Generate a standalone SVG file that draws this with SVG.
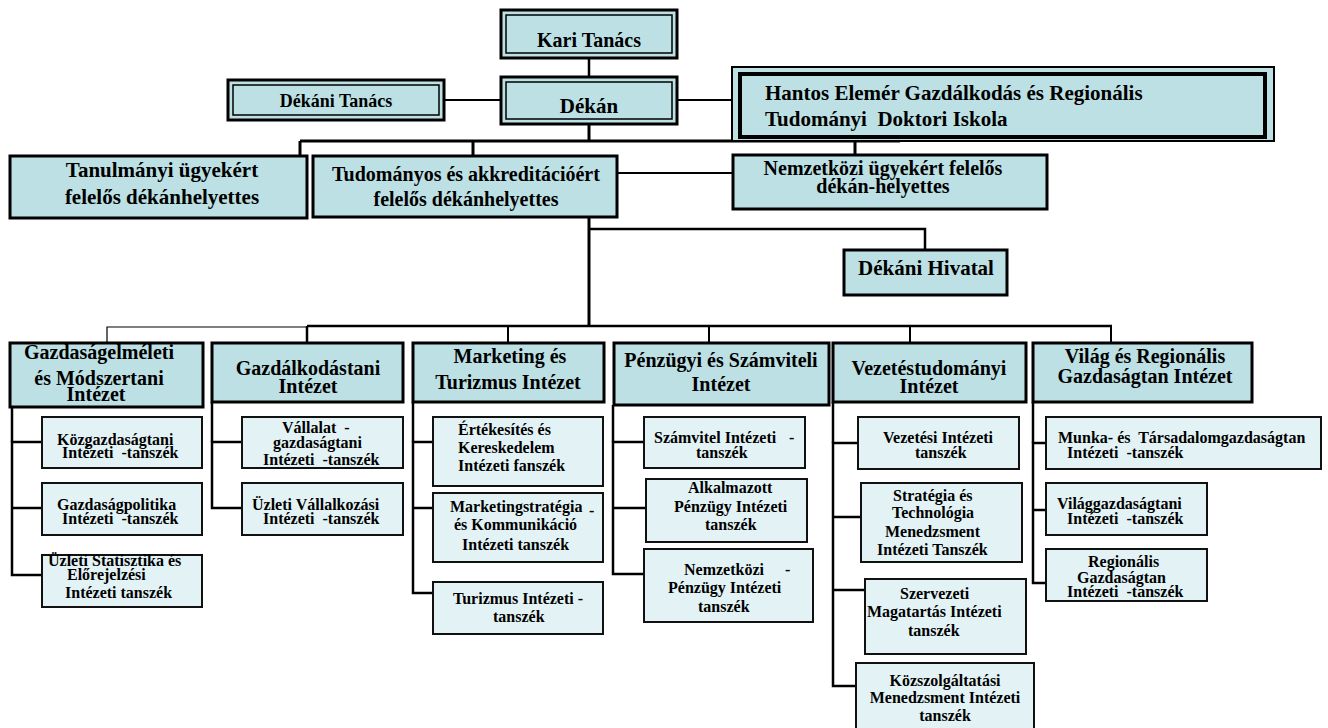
<svg xmlns="http://www.w3.org/2000/svg" width="1328" height="728" viewBox="0 0 1328 728">
<style>
text{font-family:"Liberation Serif","Times New Roman",serif;font-weight:bold;fill:#000;white-space:pre}
.c{text-anchor:middle}
.box{fill:#bce0e4;stroke:#000;stroke-width:3}
.inner{fill:none;stroke:#000;stroke-width:1.5}
.sub{fill:#e3f3f5;stroke:#111;stroke-width:2}
.f22{font-size:21px}
.f20{font-size:20px}
.f18{font-size:18px}
.s{font-size:16px}
#connectors line,#connectors polyline{stroke:#000;fill:none;stroke-width:2.5}
</style>
<rect width="1328" height="728" fill="#fff"/>
<g id="connectors">
<line x1="589" y1="58" x2="589" y2="77"/>
<line x1="444" y1="100" x2="501" y2="100" style="stroke-width:2"/>
<line x1="677" y1="100" x2="732" y2="100" style="stroke-width:2"/>
<line x1="589" y1="124" x2="589" y2="141" style="stroke-width:3"/>
<line x1="300" y1="141" x2="900" y2="141" style="stroke-width:3"/>
<line x1="300" y1="141" x2="300" y2="156" style="stroke-width:3"/>
<line x1="473" y1="141" x2="473" y2="156" style="stroke-width:3"/>
<line x1="855" y1="141" x2="855" y2="155" style="stroke-width:3"/>
<line x1="617" y1="173" x2="733" y2="173" style="stroke-width:2"/>
<line x1="589" y1="218" x2="589" y2="327" style="stroke-width:3"/>
<polyline points="589,229 925,229 925,250"/>
<line x1="307" y1="326" x2="1112" y2="326"/>
<polyline points="107,343 107,327 307,327" style="stroke-width:1.2"/>
<line x1="307" y1="326" x2="307" y2="343"/>
<line x1="508" y1="326" x2="508" y2="343" style="stroke-width:2"/>
<line x1="709" y1="326" x2="709" y2="343" style="stroke-width:2"/>
<line x1="910" y1="326" x2="910" y2="343" style="stroke-width:2"/>
<line x1="1111" y1="326" x2="1111" y2="343" style="stroke-width:2"/>
<polyline points="42,442 12,442 12,575 42,575"/>
<line x1="12" y1="508" x2="42" y2="508"/>
<line x1="12" y1="407" x2="12" y2="442"/>
<polyline points="242,442 212,442 212,508 242,508"/>
<line x1="212" y1="402" x2="212" y2="442"/>
<polyline points="433,442 413,442 413,593 433,593"/>
<line x1="413" y1="402" x2="413" y2="442"/>
<line x1="413" y1="508" x2="433" y2="508"/>
<polyline points="644,442 613,442 613,574 644,574"/>
<line x1="613" y1="405" x2="613" y2="442"/>
<line x1="613" y1="508" x2="646" y2="508"/>
<polyline points="858,443 833,443 833,686 856,686"/>
<line x1="833" y1="402" x2="833" y2="443"/>
<line x1="833" y1="517" x2="861" y2="517"/>
<line x1="833" y1="590" x2="865" y2="590"/>
<polyline points="1046,443 1033,443 1033,583 1046,583"/>
<line x1="1033" y1="402" x2="1033" y2="443"/>
<line x1="1033" y1="510" x2="1046" y2="510"/>
</g>
<g id="kari-tanacs">
<rect class="box" x="501" y="10" width="176" height="48"/>
<rect class="inner" x="506" y="15" width="166" height="38"/>
<text class="c f20" x="589" y="47">Kari Tanács</text>
</g>
<g id="dekan">
<rect class="box" x="501" y="77" width="176" height="47"/>
<rect class="inner" x="506" y="82" width="166" height="37"/>
<text class="c f22" x="589" y="113">Dékán</text>
</g>
<g id="dekani-tanacs">
<rect class="box" x="228" y="80" width="216" height="40"/>
<rect class="inner" x="233" y="85" width="206" height="30"/>
<text class="c f18" x="336" y="107">Dékáni Tanács</text>
</g>
<g id="doktori-iskola">
<rect x="732" y="67" width="542" height="74" fill="#bce0e4" stroke="#000" stroke-width="2"/>
<rect x="740" y="74" width="525" height="63" fill="none" stroke="#000" stroke-width="4"/>
<text class="f22" x="765" y="100">Hantos Elemér Gazdálkodás és Regionális</text>
<text class="f22" x="765" y="126">Tudományi  Doktori Iskola</text>
</g>
<g id="tanulmanyi">
<rect class="box" x="10" y="156" width="297" height="62"/>
<text class="c f22" x="162" y="177">Tanulmányi ügyekért</text>
<text class="c f22" x="162" y="204">felelős dékánhelyettes</text>
</g>
<g id="tudomanyos">
<rect class="box" x="313" y="156" width="304" height="61"/>
<text class="c f20" x="466" y="181">Tudományos és akkreditációért</text>
<text class="c f20" x="466" y="206">felelős dékánhelyettes</text>
</g>
<g id="nemzetkozi">
<rect class="box" x="733" y="155" width="314" height="54"/>
<text class="c f20" x="883" y="175">Nemzetközi ügyekért felelős</text>
<text class="c f20" x="883" y="193">dékán-helyettes</text>
</g>
<g id="dekani-hivatal">
<rect class="box" x="844" y="250" width="163" height="45"/>
<text class="c f22" x="926" y="275">Dékáni Hivatal</text>
</g>
<g id="gazdasagelmeleti">
<rect class="box" x="10" y="343" width="193" height="64"/>
<text class="c f20" x="99" y="359">Gazdaságelméleti</text>
<text class="c f20" x="99" y="385">és Módszertani</text>
<text class="c f20" x="96" y="401">Intézet</text>
</g>
<g id="gazdalkodastani">
<rect class="box" x="212" y="343" width="191" height="59"/>
<text class="c f20" x="308" y="375">Gazdálkodástani</text>
<text class="c f20" x="308" y="393">Intézet</text>
</g>
<g id="marketing">
<rect class="box" x="413" y="343" width="191" height="59"/>
<text class="c f20" x="510" y="363">Marketing és</text>
<text class="c f20" x="508" y="389">Turizmus Intézet</text>
</g>
<g id="penzugyi">
<rect class="box" x="614" y="343" width="215" height="62"/>
<text class="c f20" x="721" y="367">Pénzügyi és Számviteli</text>
<text class="c f20" x="721" y="391">Intézet</text>
</g>
<g id="vezetestudomanyi">
<rect class="box" x="833" y="343" width="193" height="59"/>
<text class="c f20" x="929" y="375">Vezetéstudományi</text>
<text class="c f20" x="929" y="393">Intézet</text>
</g>
<g id="vilag">
<rect class="box" x="1033" y="343" width="219" height="59"/>
<text class="c f20" x="1145" y="363">Világ és Regionális</text>
<text class="c f20" x="1145" y="383">Gazdaságtan Intézet</text>
</g>
<g id="kozgazdasagtani">
<rect class="sub" x="42" y="417" width="160" height="51"/>
<text class="s" x="57" y="445">Közgazdaságtani</text>
<text class="s" x="62" y="458">Intézeti  -tanszék</text>
</g>
<g id="gazdasagpolitika">
<rect class="sub" x="42" y="483" width="160" height="52"/>
<text class="s" x="57" y="510">Gazdaságpolitika</text>
<text class="s" x="62" y="524">Intézeti  -tanszék</text>
</g>
<g id="uzleti-statisztika">
<rect class="sub" x="42" y="555" width="160" height="52"/>
<text class="s" x="48" y="566">Üzleti Statisztika és</text>
<text class="s" x="67" y="580">Előrejelzési</text>
<text class="s" x="65" y="598">Intézeti tanszék</text>
</g>
<g id="vallalatgazdasagtani">
<rect class="sub" x="242" y="417" width="161" height="51"/>
<text class="s" x="282" y="433">Vállalat  -</text>
<text class="s" x="273" y="448">gazdaságtani</text>
<text class="s" x="263" y="465">Intézeti  -tanszék</text>
</g>
<g id="uzleti-vallalkozasi">
<rect class="sub" x="242" y="483" width="161" height="52"/>
<text class="s" x="252" y="510">Üzleti Vállalkozási</text>
<text class="s" x="263" y="524">Intézeti  -tanszék</text>
</g>
<g id="ertekesites">
<rect class="sub" x="433" y="417" width="170" height="69"/>
<text class="s" x="458" y="435">Értékesítés és</text>
<text class="s" x="458" y="453">Kereskedelem</text>
<text class="s" x="458" y="471">Intézeti fanszék</text>
</g>
<g id="marketingstrategia">
<rect class="sub" x="433" y="493" width="170" height="69"/>
<text class="s" x="450" y="512">Marketingstratégia</text>
<text class="s" x="589" y="516">-</text>
<text class="s" x="454" y="530">és Kommunikáció</text>
<text class="s" x="462" y="550">Intézeti tanszék</text>
</g>
<g id="turizmus">
<rect class="sub" x="433" y="582" width="170" height="52"/>
<text class="s" x="453" y="604">Turizmus Intézeti -</text>
<text class="s" x="493" y="622">tanszék</text>
</g>
<g id="szamvitel">
<rect class="sub" x="644" y="417" width="161" height="51"/>
<text class="s" x="654" y="443">Számvitel Intézeti</text>
<text class="s" x="789" y="443">-</text>
<text class="s" x="696" y="458">tanszék</text>
</g>
<g id="alkalmazott-penzugy">
<rect class="sub" x="646" y="479" width="161" height="63"/>
<text class="s" x="688" y="493">Alkalmazott</text>
<text class="s" x="674" y="512">Pénzügy Intézeti</text>
<text class="s" x="705" y="530">tanszék</text>
</g>
<g id="nemzetkozi-penzugy">
<rect class="sub" x="644" y="549" width="169" height="73"/>
<text class="s" x="684" y="575">Nemzetközi</text>
<text class="s" x="785" y="575">-</text>
<text class="s" x="668" y="593">Pénzügy Intézeti</text>
<text class="s" x="698" y="612">tanszék</text>
</g>
<g id="vezetesi">
<rect class="sub" x="858" y="417" width="161" height="52"/>
<text class="s" x="883" y="443">Vezetési Intézeti</text>
<text class="s" x="915" y="458">tanszék</text>
</g>
<g id="strategia">
<rect class="sub" x="861" y="483" width="161" height="79"/>
<text class="s" x="893" y="501">Stratégia és</text>
<text class="s" x="892" y="518">Technológia</text>
<text class="s" x="885" y="537">Menedzsment</text>
<text class="s" x="877" y="555">Intézeti Tanszék</text>
</g>
<g id="szervezeti">
<rect class="sub" x="865" y="579" width="161" height="75"/>
<text class="s" x="900" y="599">Szervezeti</text>
<text class="s" x="867" y="617">Magatartás Intézeti</text>
<text class="s" x="908" y="636">tanszék</text>
</g>
<g id="kozszolgaltatasi">
<rect class="sub" x="856" y="663" width="178" height="70"/>
<text class="s c" x="945" y="686">Közszolgáltatási</text>
<text class="s c" x="945" y="703">Menedzsment Intézeti</text>
<text class="s c" x="945" y="721">tanszék</text>
</g>
<g id="munka">
<rect class="sub" x="1046" y="417" width="275" height="52"/>
<text class="s" x="1058" y="443">Munka- és  Társadalomgazdaságtan</text>
<text class="s" x="1067" y="458">Intézeti  -tanszék</text>
</g>
<g id="vilaggazdasagtani">
<rect class="sub" x="1046" y="483" width="161" height="52"/>
<text class="s" x="1057" y="509">Világgazdaságtani</text>
<text class="s" x="1067" y="524">Intézeti  -tanszék</text>
</g>
<g id="regionalis">
<rect class="sub" x="1046" y="549" width="161" height="52"/>
<text class="s" x="1088" y="567">Regionális</text>
<text class="s" x="1077" y="583">Gazdaságtan</text>
<text class="s" x="1067" y="597">Intézeti  -tanszék</text>
</g>
</svg>
